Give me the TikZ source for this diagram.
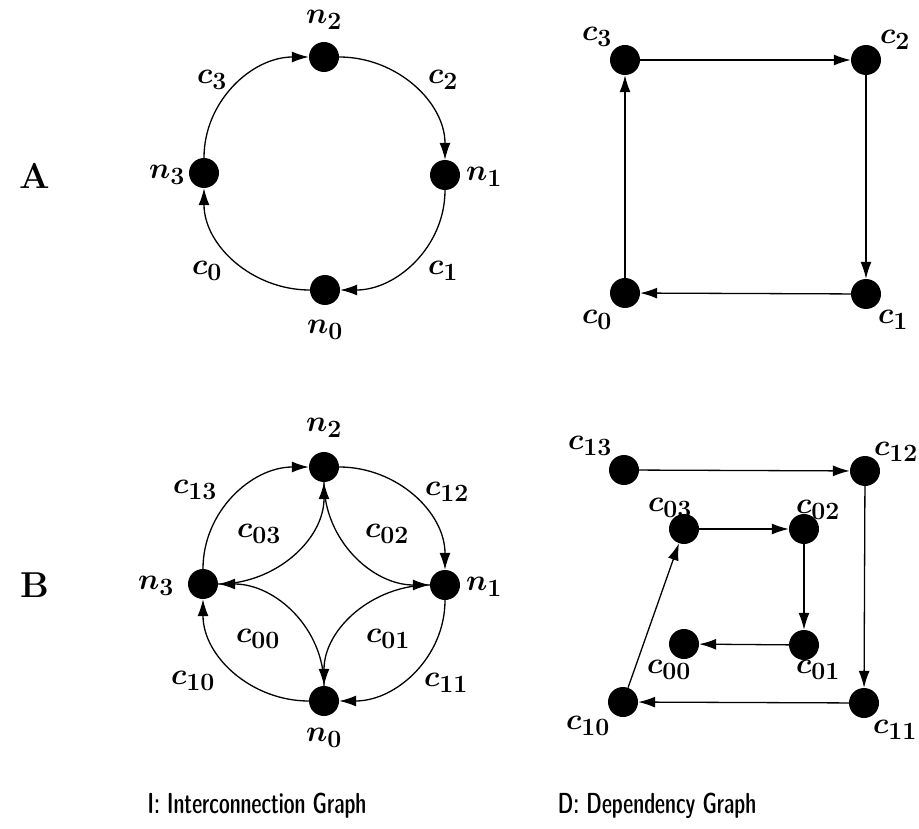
\documentclass[tikz,border=0pt]{standalone}
\usetikzlibrary{arrows.meta}
\begin{document}
\begin{tikzpicture}[x=1pt, y=-1pt,
  dot/.style={circle, fill=black, inner sep=0pt, minimum size=30pt},
  lbl/.style={inner sep=0pt, scale=1.2, font=\fontsize{24.88}{28}\selectfont\boldmath},
  rowname/.style={inner sep=0pt, font=\fontsize{36}{40}\selectfont\bfseries},
  caption/.style={inner sep=0pt, xscale=0.78, font=\fontsize{29}{32}\selectfont\sffamily\fontseries{sbc}\selectfont},
  edge/.style={line width=1.3pt, -{Latex[length=17pt, width=11pt]}}]
\useasboundingbox (0,0) rectangle (919,829);

% ---------- row labels ----------
\node[rowname] (rowA) at (35,176) {A};
\node[rowname] (rowB) at (35,585) {B};

% ---------- A: interconnection graph ----------
\node[dot] (an2) at (324,57) {};
\node[dot] (an1) at (445,175) {};
\node[dot] (an0) at (325,290) {};
\node[dot] (an3) at (204,173) {};
\node[lbl] (an2l) at (324,20) {$n_2$};
\node[lbl] (an1l) at (484,177) {$n_1$};
\node[lbl] (an0l) at (325,330) {$n_0$};
\node[lbl] (an3l) at (167,175) {$n_3$};
\node[lbl] (ac3l) at (212,80) {$c_3$};
\node[lbl] (ac2l) at (443,80) {$c_2$};
\node[lbl] (ac1l) at (443,271) {$c_1$};
\node[lbl] (ac0l) at (207,271) {$c_0$};
\draw[edge] (an3) to[out=90, in=180] (an2);
\draw[edge] (an2) to[out=0, in=90] (an1);
\draw[edge] (an1) to[out=-90, in=0] (an0);
\draw[edge] (an0) to[out=180, in=-90] (an3);

% ---------- A: dependency graph ----------
\node[dot] (ad3) at (625,60) {};
\node[dot] (ad2) at (866,60) {};
\node[dot] (ad1) at (866,294) {};
\node[dot] (ad0) at (625,293) {};
\node[lbl] (ad3l) at (597,37) {$c_3$};
\node[lbl] (ad2l) at (895,40) {$c_2$};
\node[lbl] (ad1l) at (893,320) {$c_1$};
\node[lbl] (ad0l) at (597,320) {$c_0$};
\draw[edge] (ad3) -- (ad2);
\draw[edge] (ad2) -- (ad1);
\draw[edge] (ad1) -- (ad0);
\draw[edge] (ad0) -- (ad3);

% ---------- B: interconnection graph ----------
\node[dot] (bn2) at (324,467) {};
\node[dot] (bn1) at (445,585) {};
\node[dot] (bn0) at (324,701) {};
\node[dot] (bn3) at (203,584) {};
\node[lbl] (bn2l) at (324,428) {$n_2$};
\node[lbl] (bn1l) at (484,587) {$n_1$};
\node[lbl] (bn0l) at (324,738) {$n_0$};
\node[lbl] (bn3l) at (156,586) {$n_3$};
\node[lbl] (bc13l) at (195,490) {$c_{13}$};
\node[lbl] (bc12l) at (447,492) {$c_{12}$};
\node[lbl] (bc11l) at (446,683) {$c_{11}$};
\node[lbl] (bc10l) at (193,681) {$c_{10}$};
\node[lbl] (bc03l) at (259,534) {$c_{03}$};
\node[lbl] (bc02l) at (387,534) {$c_{02}$};
\node[lbl] (bc01l) at (388,639) {$c_{01}$};
\node[lbl] (bc00l) at (258,639) {$c_{00}$};
% outer ring
\draw[edge] (bn3) to[out=90, in=180] (bn2);
\draw[edge] (bn2) to[out=0, in=90] (bn1);
\draw[edge] (bn1) to[out=-90, in=0] (bn0);
\draw[edge] (bn0) to[out=180, in=-90] (bn3);
% inner ring
\draw[edge] (bn3) to[out=0, in=-90] (bn2);
\draw[edge] (bn2) to[out=-90, in=180] (bn1);
\draw[edge] (bn1) to[out=180, in=90] (bn0);
\draw[edge] (bn0) to[out=90, in=0] (bn3);

% ---------- B: dependency graph ----------
\node[dot] (bd13) at (624,470) {};
\node[dot] (bd12) at (865,471) {};
\node[dot] (bd11) at (864,703) {};
\node[dot] (bd10) at (623,702) {};
\node[dot] (bd03) at (684,529) {};
\node[dot] (bd02) at (804,529) {};
\node[dot] (bd01) at (804,645) {};
\node[dot] (bd00) at (684,644) {};
\node[lbl] (bd13l) at (590,446) {$c_{13}$};
\node[lbl] (bd12l) at (896,452) {$c_{12}$};
\node[lbl] (bd11l) at (895,730) {$c_{11}$};
\node[lbl] (bd10l) at (588,726) {$c_{10}$};
\node[lbl] (bd03l) at (670,508) {$c_{03}$};
\node[lbl] (bd02l) at (818,510) {$c_{02}$};
\node[lbl] (bd01l) at (818,670) {$c_{01}$};
\node[lbl] (bd00l) at (669,670) {$c_{00}$};
\draw[edge] (bd13) -- (bd12);
\draw[edge] (bd12) -- (bd11);
\draw[edge] (bd11) -- (bd10);
\draw[edge] (bd10) -- (bd03);
\draw[edge] (bd03) -- (bd02);
\draw[edge] (bd02) -- (bd01);
\draw[edge] (bd01) -- (bd00);

% ---------- captions ----------
\node[caption] (capI) at (257,806) {I: Interconnection Graph};
\node[caption] (capD) at (657,806) {D: Dependency Graph};
\end{tikzpicture}
\end{document}
